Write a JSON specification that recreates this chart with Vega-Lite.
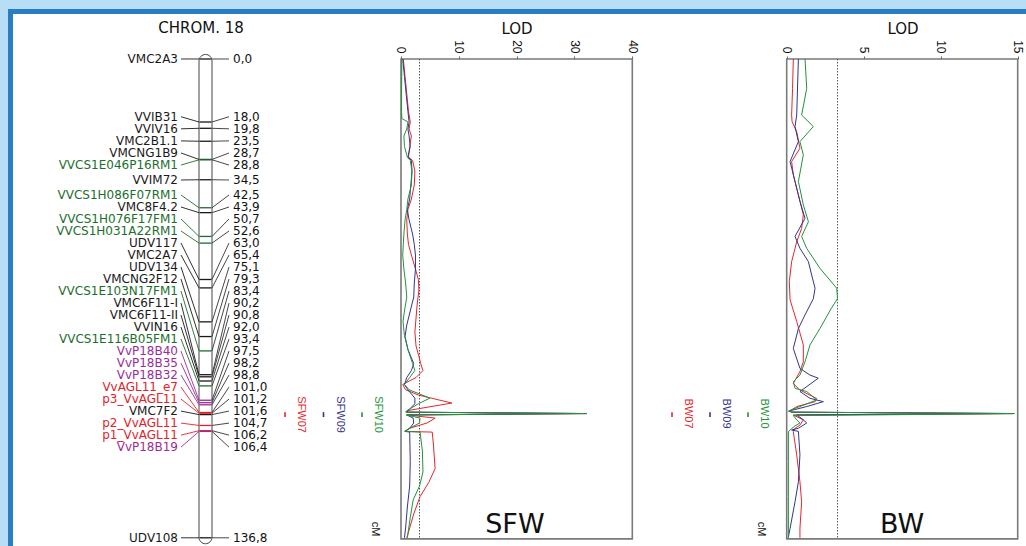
{
"$schema": "https://vega.github.io/schema/vega-lite/v6.json",
"width": 1026, "height": 546,
"autosize": {"type": "fit", "contains": "padding"},
"padding": {"left": 8, "top": 9, "right": 0, "bottom": 0},
"background": "#b8def6",
"config": {
  "view": {"fill": "white", "stroke": null},
  "locale": {"number": {"decimal": ",", "thousands": ".", "grouping": [3], "currency": ["", " €"]}},
  "text": {"font": "DejaVu Sans"}
},
"datasets": {
  "markers": [
    {"marker": "VMC2A3", "cM": 0.0, "labelCM": 0.0, "class": "SSR"},
    {"marker": "VVIB31", "cM": 18.0, "labelCM": 16.5, "class": "SSR"},
    {"marker": "VVIV16", "cM": 19.8, "labelCM": 19.95, "class": "SSR"},
    {"marker": "VMC2B1.1", "cM": 23.5, "labelCM": 23.4, "class": "SSR"},
    {"marker": "VMCNG1B9", "cM": 28.7, "labelCM": 26.85, "class": "SSR"},
    {"marker": "VVCS1E046P16RM1", "cM": 28.8, "labelCM": 30.3, "class": "EST"},
    {"marker": "VVIM72", "cM": 34.5, "labelCM": 34.57, "class": "SSR"},
    {"marker": "VVCS1H086F07RM1", "cM": 42.5, "labelCM": 38.86, "class": "EST"},
    {"marker": "VMC8F4.2", "cM": 43.9, "labelCM": 42.29, "class": "SSR"},
    {"marker": "VVCS1H076F17FM1", "cM": 50.7, "labelCM": 45.72, "class": "EST"},
    {"marker": "VVCS1H031A22RM1", "cM": 52.6, "labelCM": 49.15, "class": "EST"},
    {"marker": "UDV117", "cM": 63.0, "labelCM": 52.58, "class": "SSR"},
    {"marker": "VMC2A7", "cM": 65.4, "labelCM": 56.01, "class": "SSR"},
    {"marker": "UDV134", "cM": 75.1, "labelCM": 59.44, "class": "SSR"},
    {"marker": "VMCNG2F12", "cM": 79.3, "labelCM": 62.87, "class": "SSR"},
    {"marker": "VVCS1E103N17FM1", "cM": 83.4, "labelCM": 66.3, "class": "EST"},
    {"marker": "VMC6F11-I", "cM": 90.2, "labelCM": 69.73, "class": "SSR"},
    {"marker": "VMC6F11-II", "cM": 90.8, "labelCM": 73.16, "class": "SSR"},
    {"marker": "VVIN16", "cM": 92.0, "labelCM": 76.59, "class": "SSR"},
    {"marker": "VVCS1E116B05FM1", "cM": 93.4, "labelCM": 80.02, "class": "EST"},
    {"marker": "VvP18B40", "cM": 97.5, "labelCM": 83.45, "class": "P18"},
    {"marker": "VvP18B35", "cM": 98.2, "labelCM": 86.88, "class": "P18"},
    {"marker": "VvP18B32", "cM": 98.8, "labelCM": 90.31, "class": "P18"},
    {"marker": "VvAGL11_e7", "cM": 101.0, "labelCM": 93.74, "class": "AGL11"},
    {"marker": "p3_VvAGL11", "cM": 101.2, "labelCM": 97.17, "class": "AGL11"},
    {"marker": "VMC7F2", "cM": 101.6, "labelCM": 100.6, "class": "SSR"},
    {"marker": "p2_VvAGL11", "cM": 104.7, "labelCM": 104.03, "class": "AGL11"},
    {"marker": "p1_VvAGL11", "cM": 106.2, "labelCM": 107.46, "class": "AGL11"},
    {"marker": "VvP18B19", "cM": 106.4, "labelCM": 110.89, "class": "P18"},
    {"marker": "UDV108", "cM": 136.8, "labelCM": 136.8, "class": "SSR"}
  ],
  "qtl": [
    {"trait": "SFW", "year": "07", "label": "SFW07", "start": 100.9, "end": 102.3, "peak": 101.6},
    {"trait": "SFW", "year": "09", "label": "SFW09", "start": 100.9, "end": 102.3, "peak": 101.6},
    {"trait": "SFW", "year": "10", "label": "SFW10", "start": 100.9, "end": 102.3, "peak": 101.6},
    {"trait": "BW", "year": "07", "label": "BW07", "start": 100.9, "end": 102.3, "peak": 101.3},
    {"trait": "BW", "year": "09", "label": "BW09", "start": 100.9, "end": 102.3, "peak": 101.3},
    {"trait": "BW", "year": "10", "label": "BW10", "start": 100.9, "end": 102.3, "peak": 101.3}
  ],
  "sfw": [
    {"year":"07","cM":0,"LOD":0.4},{"year":"07","cM":5,"LOD":0.7},{"year":"07","cM":10,"LOD":1.0},{"year":"07","cM":15,"LOD":1.3},{"year":"07","cM":18,"LOD":1.6},{"year":"07","cM":20,"LOD":1.4},{"year":"07","cM":22,"LOD":1.8},{"year":"07","cM":25,"LOD":1.5},{"year":"07","cM":28,"LOD":1.3},{"year":"07","cM":29,"LOD":2.0},{"year":"07","cM":32,"LOD":2.4},{"year":"07","cM":36,"LOD":2.3},{"year":"07","cM":40,"LOD":1.8},{"year":"07","cM":43,"LOD":1.2},{"year":"07","cM":46,"LOD":1.0},{"year":"07","cM":50,"LOD":1.1},{"year":"07","cM":53,"LOD":1.3},{"year":"07","cM":56,"LOD":1.8},{"year":"07","cM":60,"LOD":2.5},{"year":"07","cM":63,"LOD":3.0},{"year":"07","cM":66,"LOD":3.1},{"year":"07","cM":70,"LOD":2.8},{"year":"07","cM":74,"LOD":2.6},{"year":"07","cM":78,"LOD":2.4},{"year":"07","cM":82,"LOD":2.6},{"year":"07","cM":85,"LOD":3.1},{"year":"07","cM":87,"LOD":3.4},{"year":"07","cM":89,"LOD":3.8},{"year":"07","cM":91,"LOD":2.6},{"year":"07","cM":93,"LOD":0.3},{"year":"07","cM":94.5,"LOD":0.8},{"year":"07","cM":96,"LOD":3.0},{"year":"07","cM":98.3,"LOD":8.8},{"year":"07","cM":99.5,"LOD":4.5},{"year":"07","cM":100.5,"LOD":1.0},{"year":"07","cM":100.9,"LOD":1.0},{"year":"07","cM":101.3,"LOD":32.1},{"year":"07","cM":101.7,"LOD":1.2},{"year":"07","cM":102.6,"LOD":5.9},{"year":"07","cM":104,"LOD":4.5},{"year":"07","cM":105.5,"LOD":1.5},{"year":"07","cM":106.4,"LOD":0.7},{"year":"07","cM":106.6,"LOD":5.4},{"year":"07","cM":110,"LOD":5.6},{"year":"07","cM":117,"LOD":5.9},{"year":"07","cM":121,"LOD":4.8},{"year":"07","cM":125,"LOD":3.3},{"year":"07","cM":130,"LOD":2.2},{"year":"07","cM":134,"LOD":1.5},{"year":"07","cM":136.8,"LOD":1.0},
    {"year":"09","cM":0,"LOD":0.3},{"year":"09","cM":5,"LOD":0.6},{"year":"09","cM":10,"LOD":0.9},{"year":"09","cM":15,"LOD":1.2},{"year":"09","cM":18,"LOD":1.4},{"year":"09","cM":20,"LOD":1.2},{"year":"09","cM":22,"LOD":1.4},{"year":"09","cM":25,"LOD":1.6},{"year":"09","cM":28,"LOD":1.2},{"year":"09","cM":29,"LOD":1.8},{"year":"09","cM":32,"LOD":1.9},{"year":"09","cM":36,"LOD":1.7},{"year":"09","cM":40,"LOD":1.5},{"year":"09","cM":43,"LOD":1.1},{"year":"09","cM":46,"LOD":1.4},{"year":"09","cM":50,"LOD":2.0},{"year":"09","cM":53,"LOD":2.3},{"year":"09","cM":56,"LOD":2.5},{"year":"09","cM":60,"LOD":2.5},{"year":"09","cM":64,"LOD":2.3},{"year":"09","cM":68,"LOD":2.2},{"year":"09","cM":72,"LOD":1.6},{"year":"09","cM":76,"LOD":1.0},{"year":"09","cM":79.3,"LOD":0.7},{"year":"09","cM":83,"LOD":1.2},{"year":"09","cM":87,"LOD":2.2},{"year":"09","cM":89,"LOD":1.8},{"year":"09","cM":91,"LOD":1.0},{"year":"09","cM":93,"LOD":0.6},{"year":"09","cM":94.5,"LOD":1.2},{"year":"09","cM":96.9,"LOD":2.4},{"year":"09","cM":98.5,"LOD":2.4},{"year":"09","cM":100.5,"LOD":1.2},{"year":"09","cM":100.9,"LOD":1.0},{"year":"09","cM":101.3,"LOD":32.1},{"year":"09","cM":101.7,"LOD":1.0},{"year":"09","cM":102.6,"LOD":2.1},{"year":"09","cM":104,"LOD":2.2},{"year":"09","cM":105.5,"LOD":1.5},{"year":"09","cM":106.4,"LOD":0.7},{"year":"09","cM":106.6,"LOD":1.5},{"year":"09","cM":115,"LOD":1.6},{"year":"09","cM":122,"LOD":1.5},{"year":"09","cM":128,"LOD":1.1},{"year":"09","cM":134,"LOD":0.8},{"year":"09","cM":136.8,"LOD":0.6},
    {"year":"10","cM":0,"LOD":0.15},{"year":"10","cM":5,"LOD":0.12},{"year":"10","cM":10,"LOD":0.1},{"year":"10","cM":15,"LOD":0.1},{"year":"10","cM":17,"LOD":0.15},{"year":"10","cM":18,"LOD":1.2},{"year":"10","cM":20,"LOD":1.0},{"year":"10","cM":22,"LOD":0.5},{"year":"10","cM":25,"LOD":0.6},{"year":"10","cM":28,"LOD":1.1},{"year":"10","cM":29,"LOD":1.6},{"year":"10","cM":32,"LOD":1.9},{"year":"10","cM":36,"LOD":1.8},{"year":"10","cM":40,"LOD":1.2},{"year":"10","cM":43,"LOD":1.0},{"year":"10","cM":46,"LOD":0.7},{"year":"10","cM":50,"LOD":0.5},{"year":"10","cM":53,"LOD":0.4},{"year":"10","cM":56,"LOD":0.3},{"year":"10","cM":60,"LOD":0.5},{"year":"10","cM":64,"LOD":0.8},{"year":"10","cM":68,"LOD":1.0},{"year":"10","cM":72,"LOD":0.6},{"year":"10","cM":75,"LOD":0.35},{"year":"10","cM":79,"LOD":0.6},{"year":"10","cM":83,"LOD":1.2},{"year":"10","cM":87,"LOD":2.0},{"year":"10","cM":89,"LOD":2.4},{"year":"10","cM":91,"LOD":1.5},{"year":"10","cM":93,"LOD":0.6},{"year":"10","cM":94.5,"LOD":1.4},{"year":"10","cM":96.9,"LOD":5.0},{"year":"10","cM":98.5,"LOD":3.0},{"year":"10","cM":100.5,"LOD":1.0},{"year":"10","cM":100.9,"LOD":0.8},{"year":"10","cM":101.3,"LOD":32.1},{"year":"10","cM":101.7,"LOD":0.9},{"year":"10","cM":102.6,"LOD":3.3},{"year":"10","cM":104,"LOD":3.2},{"year":"10","cM":105.5,"LOD":1.5},{"year":"10","cM":106.4,"LOD":0.6},{"year":"10","cM":106.6,"LOD":3.3},{"year":"10","cM":112,"LOD":3.7},{"year":"10","cM":118,"LOD":3.8},{"year":"10","cM":122,"LOD":3.2},{"year":"10","cM":126,"LOD":2.1},{"year":"10","cM":131,"LOD":1.6},{"year":"10","cM":136.8,"LOD":1.1}
  ],
  "bw": [
    {"year":"07","cM":0,"LOD":0.43},{"year":"07","cM":8.4,"LOD":0.38},{"year":"07","cM":16,"LOD":0.32},{"year":"07","cM":17.9,"LOD":0.35},{"year":"07","cM":20.8,"LOD":0.65},{"year":"07","cM":25.5,"LOD":0.86},{"year":"07","cM":29.3,"LOD":0.32},{"year":"07","cM":33.1,"LOD":0.43},{"year":"07","cM":38.8,"LOD":0.76},{"year":"07","cM":44.5,"LOD":1.08},{"year":"07","cM":48.4,"LOD":0.97},{"year":"07","cM":52.2,"LOD":0.65},{"year":"07","cM":57.9,"LOD":0.32},{"year":"07","cM":63.6,"LOD":0.17},{"year":"07","cM":68.8,"LOD":0.22},{"year":"07","cM":75,"LOD":0.65},{"year":"07","cM":81.7,"LOD":1.08},{"year":"07","cM":86.5,"LOD":1.08},{"year":"07","cM":89.3,"LOD":0.86},{"year":"07","cM":92.7,"LOD":0.43},{"year":"07","cM":94.6,"LOD":0.86},{"year":"07","cM":97,"LOD":1.95},{"year":"07","cM":97.9,"LOD":1.84},{"year":"07","cM":99.3,"LOD":0.65},{"year":"07","cM":100.5,"LOD":0.22},{"year":"07","cM":100.9,"LOD":0.3},{"year":"07","cM":101.3,"LOD":14.7},{"year":"07","cM":101.7,"LOD":0.43},{"year":"07","cM":103.1,"LOD":1.08},{"year":"07","cM":104.6,"LOD":0.86},{"year":"07","cM":105.5,"LOD":0.54},{"year":"07","cM":106.5,"LOD":0.43},{"year":"07","cM":113.1,"LOD":0.65},{"year":"07","cM":120.8,"LOD":0.86},{"year":"07","cM":126.5,"LOD":0.97},{"year":"07","cM":134.1,"LOD":0.86},{"year":"07","cM":136.8,"LOD":0.86},
    {"year":"09","cM":0,"LOD":0.76},{"year":"09","cM":16,"LOD":0.65},{"year":"09","cM":19.3,"LOD":0.54},{"year":"09","cM":23.6,"LOD":0.76},{"year":"09","cM":29.3,"LOD":0.22},{"year":"09","cM":35,"LOD":0.54},{"year":"09","cM":40.7,"LOD":0.86},{"year":"09","cM":45.5,"LOD":1.19},{"year":"09","cM":50.7,"LOD":0.54},{"year":"09","cM":54.1,"LOD":0.86},{"year":"09","cM":57.9,"LOD":1.41},{"year":"09","cM":61.7,"LOD":1.62},{"year":"09","cM":65.5,"LOD":1.84},{"year":"09","cM":68.5,"LOD":1.73},{"year":"09","cM":73.1,"LOD":1.19},{"year":"09","cM":77,"LOD":0.76},{"year":"09","cM":82.7,"LOD":0.43},{"year":"09","cM":88.4,"LOD":0.86},{"year":"09","cM":90.3,"LOD":1.51},{"year":"09","cM":91.2,"LOD":2.05},{"year":"09","cM":93.6,"LOD":1.3},{"year":"09","cM":95,"LOD":0.86},{"year":"09","cM":96.95,"LOD":1.51},{"year":"09","cM":97.9,"LOD":2.38},{"year":"09","cM":99.3,"LOD":1.3},{"year":"09","cM":100.5,"LOD":0.22},{"year":"09","cM":100.9,"LOD":0.3},{"year":"09","cM":101.3,"LOD":14.7},{"year":"09","cM":101.7,"LOD":0.65},{"year":"09","cM":103.1,"LOD":1.08},{"year":"09","cM":104,"LOD":1.3},{"year":"09","cM":105.5,"LOD":0.76},{"year":"09","cM":106,"LOD":0.32},{"year":"09","cM":106.4,"LOD":0.76},{"year":"09","cM":113.1,"LOD":0.86},{"year":"09","cM":120.8,"LOD":0.76},{"year":"09","cM":126.5,"LOD":0.54},{"year":"09","cM":134.1,"LOD":0.22},{"year":"09","cM":136.8,"LOD":0.1},
    {"year":"10","cM":0,"LOD":1.19},{"year":"10","cM":8.4,"LOD":1.3},{"year":"10","cM":16,"LOD":0.97},{"year":"10","cM":19.3,"LOD":1.73},{"year":"10","cM":23.6,"LOD":0.86},{"year":"10","cM":27.4,"LOD":1.08},{"year":"10","cM":35,"LOD":0.76},{"year":"10","cM":41.7,"LOD":1.08},{"year":"10","cM":46.5,"LOD":1.41},{"year":"10","cM":50.7,"LOD":0.97},{"year":"10","cM":54.1,"LOD":1.3},{"year":"10","cM":59.8,"LOD":2.16},{"year":"10","cM":65.5,"LOD":3.25},{"year":"10","cM":68.5,"LOD":3.3},{"year":"10","cM":71.2,"LOD":2.9},{"year":"10","cM":77,"LOD":2.16},{"year":"10","cM":81.7,"LOD":1.51},{"year":"10","cM":86.5,"LOD":1.19},{"year":"10","cM":90.3,"LOD":0.86},{"year":"10","cM":92.2,"LOD":0.43},{"year":"10","cM":94.1,"LOD":0.54},{"year":"10","cM":95,"LOD":1.3},{"year":"10","cM":97.4,"LOD":1.95},{"year":"10","cM":99.3,"LOD":0.86},{"year":"10","cM":100.6,"LOD":0.1},{"year":"10","cM":100.9,"LOD":0.3},{"year":"10","cM":101.3,"LOD":14.8},{"year":"10","cM":101.9,"LOD":0.43},{"year":"10","cM":103.1,"LOD":0.65},{"year":"10","cM":104,"LOD":0.86},{"year":"10","cM":104.8,"LOD":0.54},{"year":"10","cM":106,"LOD":0.22},{"year":"10","cM":106.5,"LOD":0.11},{"year":"10","cM":115,"LOD":0.11},{"year":"10","cM":125,"LOD":0.11},{"year":"10","cM":136.8,"LOD":0.11}
  ]
},
"resolve": {"scale": {"x": "independent"}, "axis": {"x": "independent"}},
"layer": [
  {
    "data": {"name": "markers"},
    "layer": [
      {"data": {"values": [{}]}, "mark": {"type": "rect", "color": "#2a7dc4"},
       "encoding": {"x": {"datum": 8, "type": "quantitative", "scale": {"domain": [8, 1026], "nice": false, "zero": false}, "axis": null}, "x2": {"datum": 13},
                    "y": {"datum": -14.2857, "type": "quantitative", "scale": {"domain": [-14.2857, 139.1429], "reverse": true, "nice": false, "zero": false}, "axis": null}, "y2": {"datum": 139.1429}}},
      {"data": {"values": [{}]}, "mark": {"type": "rect", "color": "#2a7dc4"},
       "encoding": {"x": {"datum": 8, "type": "quantitative", "scale": {"domain": [8, 1026], "nice": false, "zero": false}, "axis": null}, "x2": {"datum": 1026},
                    "y": {"datum": -14.2857, "type": "quantitative", "scale": {"domain": [-14.2857, 139.1429], "reverse": true, "nice": false, "zero": false}, "axis": null}, "y2": {"datum": -12.857}}},
      {"data": {"values": [{}]}, "mark": {"type": "text", "text": "CHROM. 18", "fontSize": 15, "font": "DejaVu Sans", "color": "#111111", "align": "center", "baseline": "middle"},
       "encoding": {"x": {"datum": 201, "type": "quantitative", "scale": {"domain": [8, 1026], "nice": false, "zero": false}, "axis": null},
                    "y": {"datum": -8.857, "type": "quantitative", "scale": {"domain": [-14.2857, 139.1429], "reverse": true, "nice": false, "zero": false}, "axis": null}}},
      {"data": {"values": [{}]}, "mark": {"type": "rect", "cornerRadius": 6.5, "fill": "white", "stroke": "#444444", "strokeWidth": 1},
       "encoding": {"x": {"datum": 199, "type": "quantitative", "scale": {"domain": [8, 1026], "nice": false, "zero": false}, "axis": null}, "x2": {"datum": 212},
                    "y": {"datum": -1.3, "type": "quantitative", "scale": {"domain": [-14.2857, 139.1429], "reverse": true, "nice": false, "zero": false}, "axis": null}, "y2": {"datum": 138.5}}},
      {"mark": {"type": "rule", "strokeWidth": 1.3},
       "encoding": {"x": {"datum": 199.5, "type": "quantitative", "scale": {"domain": [8, 1026], "nice": false, "zero": false}, "axis": null}, "x2": {"datum": 211.5},
                    "y": {"field": "cM", "type": "quantitative", "scale": {"domain": [-14.2857, 139.1429], "reverse": true, "nice": false, "zero": false}, "axis": null},
                    "color": {"field": "class", "type": "nominal", "scale": {"domain": ["SSR","EST","P18","AGL11","07","09","10"], "range": ["#1a1a1a","#1d6e2e","#9c2c98","#e2222b","#e5262d","#34348e","#24923c"]}, "legend": null}}},
      {"mark": {"type": "rule", "strokeWidth": 0.9},
       "encoding": {"x": {"datum": 181, "type": "quantitative", "scale": {"domain": [8, 1026], "nice": false, "zero": false}, "axis": null}, "x2": {"datum": 199},
                    "y": {"field": "labelCM", "type": "quantitative", "scale": {"domain": [-14.2857, 139.1429], "reverse": true, "nice": false, "zero": false}, "axis": null}, "y2": {"field": "cM"},
                    "color": {"field": "class", "type": "nominal", "scale": {"domain": ["SSR","EST","P18","AGL11","07","09","10"], "range": ["#1a1a1a","#1d6e2e","#9c2c98","#e2222b","#e5262d","#34348e","#24923c"]}, "legend": null}}},
      {"mark": {"type": "rule", "strokeWidth": 0.9, "color": "#333333"},
       "encoding": {"x": {"datum": 212, "type": "quantitative", "scale": {"domain": [8, 1026], "nice": false, "zero": false}, "axis": null}, "x2": {"datum": 229},
                    "y": {"field": "cM", "type": "quantitative", "scale": {"domain": [-14.2857, 139.1429], "reverse": true, "nice": false, "zero": false}, "axis": null}, "y2": {"field": "labelCM"}}},
      {"mark": {"type": "text", "align": "right", "baseline": "middle", "fontSize": 12, "font": "DejaVu Sans"},
       "encoding": {"x": {"datum": 178, "type": "quantitative", "scale": {"domain": [8, 1026], "nice": false, "zero": false}, "axis": null},
                    "y": {"field": "labelCM", "type": "quantitative", "scale": {"domain": [-14.2857, 139.1429], "reverse": true, "nice": false, "zero": false}, "axis": null},
                    "text": {"field": "marker"},
                    "color": {"field": "class", "type": "nominal", "scale": {"domain": ["SSR","EST","P18","AGL11","07","09","10"], "range": ["#1a1a1a","#1d6e2e","#9c2c98","#e2222b","#e5262d","#34348e","#24923c"]}, "legend": null}}},
      {"mark": {"type": "text", "align": "left", "baseline": "middle", "fontSize": 12, "font": "DejaVu Sans", "color": "#111111"},
       "encoding": {"x": {"datum": 233, "type": "quantitative", "scale": {"domain": [8, 1026], "nice": false, "zero": false}, "axis": null},
                    "y": {"field": "labelCM", "type": "quantitative", "scale": {"domain": [-14.2857, 139.1429], "reverse": true, "nice": false, "zero": false}, "axis": null},
                    "text": {"field": "cM", "type": "quantitative", "format": ".1f"}}}
    ]
  },
  {
    "data": {"name": "qtl"},
    "transform": [{"filter": "datum.trait == 'SFW'"}],
    "layer": [
      {"mark": {"type": "rule", "strokeWidth": 1.6},
       "encoding": {"x": {"field": "label", "type": "nominal", "scale": {"type": "point", "domain": ["SFW07","SFW09","SFW10"], "range": [277, 354], "padding": 0}, "axis": null},
                    "y": {"field": "start", "type": "quantitative", "scale": {"domain": [-14.2857, 139.1429], "reverse": true, "nice": false, "zero": false}, "axis": null}, "y2": {"field": "end"},
                    "color": {"field": "year", "type": "nominal", "scale": {"domain": ["SSR","EST","P18","AGL11","07","09","10"], "range": ["#1a1a1a","#1d6e2e","#9c2c98","#e2222b","#e5262d","#34348e","#24923c"]}, "legend": null}}},
      {"mark": {"type": "text", "angle": 90, "dy": -16, "align": "center", "baseline": "middle", "font": "Liberation Sans", "fontSize": 11},
       "encoding": {"x": {"field": "label", "type": "nominal", "scale": {"type": "point", "domain": ["SFW07","SFW09","SFW10"], "range": [277, 354], "padding": 0}, "axis": null},
                    "y": {"field": "peak", "type": "quantitative", "scale": {"domain": [-14.2857, 139.1429], "reverse": true, "nice": false, "zero": false}, "axis": null},
                    "text": {"field": "label"},
                    "color": {"field": "year", "type": "nominal", "scale": {"domain": ["SSR","EST","P18","AGL11","07","09","10"], "range": ["#1a1a1a","#1d6e2e","#9c2c98","#e2222b","#e5262d","#34348e","#24923c"]}, "legend": null}}}
    ]
  },
  {
    "data": {"name": "qtl"},
    "transform": [{"filter": "datum.trait == 'BW'"}],
    "layer": [
      {"mark": {"type": "rule", "strokeWidth": 1.6},
       "encoding": {"x": {"field": "label", "type": "nominal", "scale": {"type": "point", "domain": ["BW07","BW09","BW10"], "range": [664, 740], "padding": 0}, "axis": null},
                    "y": {"field": "start", "type": "quantitative", "scale": {"domain": [-14.2857, 139.1429], "reverse": true, "nice": false, "zero": false}, "axis": null}, "y2": {"field": "end"},
                    "color": {"field": "year", "type": "nominal", "scale": {"domain": ["SSR","EST","P18","AGL11","07","09","10"], "range": ["#1a1a1a","#1d6e2e","#9c2c98","#e2222b","#e5262d","#34348e","#24923c"]}, "legend": null}}},
      {"mark": {"type": "text", "angle": 90, "dy": -16, "align": "center", "baseline": "middle", "font": "Liberation Sans", "fontSize": 11},
       "encoding": {"x": {"field": "label", "type": "nominal", "scale": {"type": "point", "domain": ["BW07","BW09","BW10"], "range": [664, 740], "padding": 0}, "axis": null},
                    "y": {"field": "peak", "type": "quantitative", "scale": {"domain": [-14.2857, 139.1429], "reverse": true, "nice": false, "zero": false}, "axis": null},
                    "text": {"field": "label"},
                    "color": {"field": "year", "type": "nominal", "scale": {"domain": ["SSR","EST","P18","AGL11","07","09","10"], "range": ["#1a1a1a","#1d6e2e","#9c2c98","#e2222b","#e5262d","#34348e","#24923c"]}, "legend": null}}}
    ]
  },
  {
    "data": {"name": "sfw"},
    "layer": [
      {"data": {"values": [{}]}, "mark": {"type": "rect", "fillOpacity": 0, "stroke": "#7a7a7a", "strokeWidth": 1.6},
       "encoding": {"x": {"datum": 0, "type": "quantitative", "scale": {"domain": [-67.96, 108.08], "nice": false, "zero": false},
                          "axis": {"orient": "top", "offset": -50, "values": [0, 10, 20, 30, 40], "domain": false, "grid": false, "ticks": true, "tickSize": 3, "tickColor": "#666666", "labelAngle": 90, "labelAlign": "right", "labelBaseline": "middle", "labelPadding": 3, "labelFlush": false, "labelOverlap": false, "labelFont": "Liberation Sans", "labelFontSize": 12, "labelColor": "#111111", "title": "LOD", "titleFont": "DejaVu Sans", "titleFontSize": 15, "titleFontWeight": "normal", "titleColor": "#111111", "titleX": 508.5, "titleY": -26, "titleAlign": "center", "titleBaseline": "alphabetic", "titleAngle": 0}},
                    "x2": {"datum": 40},
                    "y": {"datum": 0, "type": "quantitative", "scale": {"domain": [-14.2857, 139.1429], "reverse": true, "nice": false, "zero": false}, "axis": null}, "y2": {"datum": 137.1}}},
      {"data": {"values": [{}]}, "mark": {"type": "rule", "strokeDash": [1.5, 1.5], "color": "#555555", "strokeWidth": 1},
       "encoding": {"x": {"datum": 3.2, "type": "quantitative"},
                    "y": {"datum": 0, "type": "quantitative", "scale": {"domain": [-14.2857, 139.1429], "reverse": true, "nice": false, "zero": false}, "axis": null}, "y2": {"datum": 137.1}}},
      {"mark": {"type": "line", "strokeWidth": 1},
       "encoding": {"x": {"field": "LOD", "type": "quantitative"},
                    "y": {"field": "cM", "type": "quantitative", "scale": {"domain": [-14.2857, 139.1429], "reverse": true, "nice": false, "zero": false}, "axis": null},
                    "order": {"field": "cM", "type": "quantitative"},
                    "color": {"field": "year", "type": "nominal", "scale": {"domain": ["SSR","EST","P18","AGL11","07","09","10"], "range": ["#1a1a1a","#1d6e2e","#9c2c98","#e2222b","#e5262d","#34348e","#24923c"]}, "legend": null}}},
      {"data": {"values": [{}]}, "mark": {"type": "text", "text": "SFW", "fontSize": 27, "font": "DejaVu Sans", "color": "#111111", "align": "center", "baseline": "alphabetic"},
       "encoding": {"x": {"datum": 19.7, "type": "quantitative"},
                    "y": {"datum": 135.4, "type": "quantitative", "scale": {"domain": [-14.2857, 139.1429], "reverse": true, "nice": false, "zero": false}, "axis": null}}},
      {"data": {"values": [{}]}, "mark": {"type": "text", "text": "cM", "angle": 90, "dy": 26, "fontSize": 11, "font": "Liberation Sans", "color": "#111111", "align": "center", "baseline": "middle"},
       "encoding": {"x": {"datum": 0, "type": "quantitative"},
                    "y": {"datum": 134.3, "type": "quantitative", "scale": {"domain": [-14.2857, 139.1429], "reverse": true, "nice": false, "zero": false}, "axis": null}}}
    ]
  },
  {
    "data": {"name": "bw"},
    "layer": [
      {"data": {"values": [{}]}, "mark": {"type": "rect", "fillOpacity": 0, "stroke": "#7a7a7a", "strokeWidth": 1.6},
       "encoding": {"x": {"datum": 0, "type": "quantitative", "scale": {"domain": [-50.565, 15.539], "nice": false, "zero": false},
                          "axis": {"orient": "top", "offset": -50, "values": [0, 5, 10, 15], "domain": false, "grid": false, "ticks": true, "tickSize": 3, "tickColor": "#666666", "labelAngle": 90, "labelAlign": "right", "labelBaseline": "middle", "labelPadding": 3, "labelFlush": false, "labelOverlap": false, "labelFont": "Liberation Sans", "labelFontSize": 12, "labelColor": "#111111", "title": "LOD", "titleFont": "DejaVu Sans", "titleFontSize": 15, "titleFontWeight": "normal", "titleColor": "#111111", "titleX": 894.5, "titleY": -26, "titleAlign": "center", "titleBaseline": "alphabetic", "titleAngle": 0}},
                    "x2": {"datum": 15},
                    "y": {"datum": 0, "type": "quantitative", "scale": {"domain": [-14.2857, 139.1429], "reverse": true, "nice": false, "zero": false}, "axis": null}, "y2": {"datum": 137.1}}},
      {"data": {"values": [{}]}, "mark": {"type": "rule", "strokeDash": [1.5, 1.5], "color": "#555555", "strokeWidth": 1},
       "encoding": {"x": {"datum": 3.3, "type": "quantitative"},
                    "y": {"datum": 0, "type": "quantitative", "scale": {"domain": [-14.2857, 139.1429], "reverse": true, "nice": false, "zero": false}, "axis": null}, "y2": {"datum": 137.1}}},
      {"mark": {"type": "line", "strokeWidth": 1},
       "encoding": {"x": {"field": "LOD", "type": "quantitative"},
                    "y": {"field": "cM", "type": "quantitative", "scale": {"domain": [-14.2857, 139.1429], "reverse": true, "nice": false, "zero": false}, "axis": null},
                    "order": {"field": "cM", "type": "quantitative"},
                    "color": {"field": "year", "type": "nominal", "scale": {"domain": ["SSR","EST","P18","AGL11","07","09","10"], "range": ["#1a1a1a","#1d6e2e","#9c2c98","#e2222b","#e5262d","#34348e","#24923c"]}, "legend": null}}},
      {"data": {"values": [{}]}, "mark": {"type": "text", "text": "BW", "fontSize": 27, "font": "DejaVu Sans", "color": "#111111", "align": "center", "baseline": "alphabetic"},
       "encoding": {"x": {"datum": 7.49, "type": "quantitative"},
                    "y": {"datum": 135.4, "type": "quantitative", "scale": {"domain": [-14.2857, 139.1429], "reverse": true, "nice": false, "zero": false}, "axis": null}}},
      {"data": {"values": [{}]}, "mark": {"type": "text", "text": "cM", "angle": 90, "dy": 26, "fontSize": 11, "font": "Liberation Sans", "color": "#111111", "align": "center", "baseline": "middle"},
       "encoding": {"x": {"datum": 0, "type": "quantitative"},
                    "y": {"datum": 134.3, "type": "quantitative", "scale": {"domain": [-14.2857, 139.1429], "reverse": true, "nice": false, "zero": false}, "axis": null}}}
    ]
  }
]
}
